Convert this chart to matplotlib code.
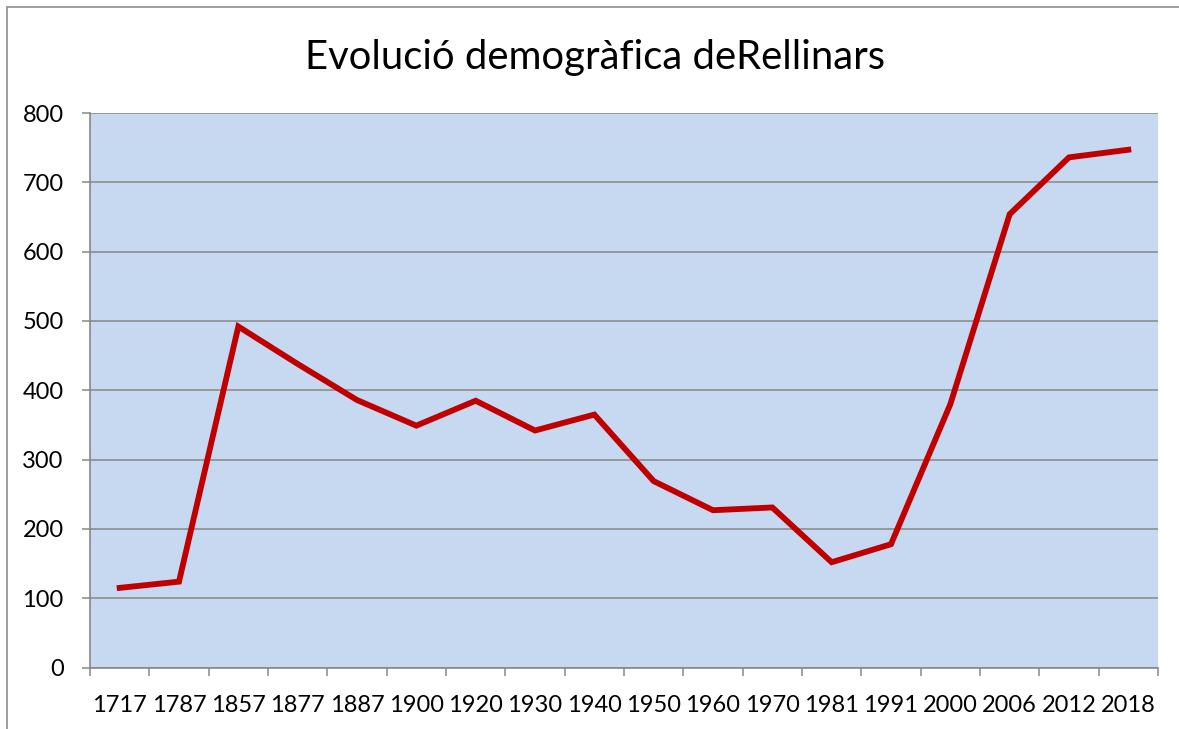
import matplotlib.pyplot as plt
import numpy as np
from matplotlib.patches import Rectangle

years = ['1717', '1787', '1857', '1877', '1887', '1900', '1920', '1930', '1940',
         '1950', '1960', '1970', '1981', '1991', '2000', '2006', '2012', '2018']
population = [115, 124, 492, 438, 386, 349, 385, 342, 365,
              269, 227, 231, 152, 178, 380, 654, 736, 747]
title = 'Evolució demogràfica deRellinars'

W, H = 1179, 729
plt.rcParams['font.family'] = ['Lato', 'DejaVu Sans']

fig = plt.figure(figsize=(W / 100, H / 100), dpi=100)
ax = fig.add_axes([90 / W, 1 - 667.6 / H, (1158 - 90) / W, (667.6 - 113) / H])

# chart frame, only the top and left edges are in view
fig.patches.append(Rectangle((7 / W, -0.1), 1.2, 1.1 - 7 / H, transform=fig.transFigure,
                             fill=False, edgecolor='#8c8c8c', lw=1.2))

x = np.arange(len(years))
ax.set_facecolor('#C6D9F0')
ax.plot(x, population, color='#C00000', lw=4.2, solid_joinstyle='miter', zorder=3)

ax.set_xlim(-0.5, len(years) - 0.5)
ax.set_ylim(0, 800)
ax.set_yticks(np.arange(0, 801, 100))
ax.set_xticks(np.arange(-0.5, len(years)), labels=[])
ax.set_xticks(x, labels=years, minor=True)
ax.yaxis.grid(True, color='#878787', lw=1.1)
ax.set_axisbelow(True)

for s in ['top', 'right']:
    ax.spines[s].set_visible(False)
for s in ['left', 'bottom']:
    ax.spines[s].set_color('#878787')
    ax.spines[s].set_linewidth(1.2)

ax.tick_params(axis='both', which='major', color='#878787', length=6, width=1.1,
               labelsize=17)
ax.tick_params(axis='y', pad=13)
ax.tick_params(axis='x', which='minor', length=0, labelsize=17, pad=19.5)

fig.text(595 / W, 1 - 58 / H, title, ha='center', va='center', fontsize=28.8)

fig.savefig('out.png', dpi=100)
